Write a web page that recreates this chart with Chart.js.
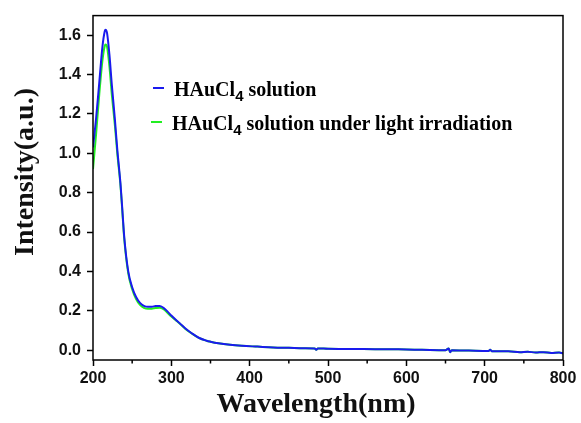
<!DOCTYPE html>
<html>
<head>
<meta charset="utf-8">
<script src="https://cdn.jsdelivr.net/npm/chart.js@4.4.1/dist/chart.umd.min.js"></script>
<style>
  body { margin: 0; background: #fff; }
  #wrap { position: relative; width: 581px; height: 423px; }
  .leg { position: absolute; font-family: "Liberation Serif", serif; font-weight: bold; font-size: 20px; line-height: 20px; color: #000; white-space: nowrap; }
  .leg sub { font-family: "Liberation Sans", sans-serif; font-size: 15px; vertical-align: -5px; line-height: 0; }
  .dash { position: absolute; height: 2px; width: 11px; }
</style>
</head>
<body>
<div id="wrap">
  <canvas id="spec" width="581" height="423"></canvas>
  <div class="dash" style="left:153px;top:87px;background:#1a1aee;"></div>
  <div class="leg" style="left:174px;top:79px;">HAuCl<sub>4</sub> solution</div>
  <div class="dash" style="left:151px;top:121px;background:#22ee22;"></div>
  <div class="leg" style="left:172px;top:113px;">HAuCl<sub>4</sub> solution under light irradiation</div>
</div>
<script>
// wavelength (nm) and absorbance
var wavelength = [200, 204, 208, 212, 215, 216, 218, 221, 224, 228, 231, 235, 237, 240, 245, 250, 255, 260, 265, 270, 275, 280, 285, 290, 295, 300, 305, 311, 318, 326, 335, 345, 350, 360, 375, 390, 410, 430, 450, 470, 483, 485, 487, 500, 530, 560, 590, 620, 650, 654, 656, 658, 680, 705, 707, 709, 730, 745, 755, 765, 775, 785, 795, 800];
var solution = [1.03, 1.18, 1.36, 1.54, 1.62, 1.628, 1.61, 1.50, 1.35, 1.17, 1.02, 0.85, 0.74, 0.57, 0.40, 0.32, 0.27, 0.24, 0.225, 0.220, 0.221, 0.224, 0.225, 0.215, 0.197, 0.176, 0.157, 0.136, 0.11, 0.086, 0.063, 0.048, 0.043, 0.035, 0.027, 0.022, 0.018, 0.014, 0.012, 0.010, 0.009, 0.002, 0.009, 0.007, 0.006, 0.005, 0.004, 0.002, 0.000, 0.008, -0.010, 0.000, -0.002, -0.004, 0.002, -0.005, -0.006, -0.010, -0.008, -0.012, -0.010, -0.014, -0.012, -0.016];
var irradiated = [0.92, 1.10, 1.30, 1.47, 1.545, 1.553, 1.54, 1.44, 1.30, 1.14, 1.00, 0.84, 0.73, 0.56, 0.39, 0.31, 0.26, 0.23, 0.215, 0.210, 0.211, 0.214, 0.216, 0.208, 0.190, 0.171, 0.154, 0.134, 0.108, 0.085, 0.062, 0.048, 0.043, 0.035, 0.027, 0.022, 0.018, 0.014, 0.012, 0.010, 0.009, 0.002, 0.009, 0.007, 0.006, 0.005, 0.004, 0.002, 0.000, 0.008, -0.010, 0.000, -0.002, -0.004, 0.002, -0.005, -0.006, -0.010, -0.008, -0.012, -0.010, -0.014, -0.012, -0.016];

var xTicks = [200, 300, 400, 500, 600, 700, 800];
var xMinor = [250, 350, 450, 550, 650, 750];
var yTicks = [0.0, 0.2, 0.4, 0.6, 0.8, 1.0, 1.2, 1.4, 1.6];
var xTitle = 'Wavelength(nm)';
var yTitle = 'Intensity(a.u.)';

function toPoints(xs, ys) {
  return xs.map(function (x, i) { return { x: x, y: ys[i] }; });
}

// box around the plot, minor ticks on the wavelength axis, axis titles
var frame = {
  id: 'frame',
  afterDraw: function (chart) {
    var ctx = chart.ctx, a = chart.chartArea, xs = chart.scales.x;
    ctx.save();
    ctx.strokeStyle = '#000';
    ctx.lineWidth = 1.5;
    ctx.strokeRect(a.left, a.top, a.right - a.left, a.bottom - a.top);
    ctx.beginPath();
    xMinor.forEach(function (v) {
      var px = xs.getPixelForValue(v);
      ctx.moveTo(px, a.bottom);
      ctx.lineTo(px, a.bottom + 3.5);
    });
    ctx.stroke();

    ctx.fillStyle = '#111';
    ctx.font = 'bold 28px "Liberation Serif"';
    ctx.textAlign = 'center';
    ctx.textBaseline = 'alphabetic';
    ctx.fillText(xTitle, 316, 412);
    ctx.translate(33, 172);
    ctx.rotate(-Math.PI / 2);
    ctx.fillText(yTitle, 0, 0);
    ctx.restore();
  }
};

var tickFont = { family: 'Liberation Sans', weight: 'bold', size: 16 };

new Chart(document.getElementById('spec'), {
  type: 'line',
  data: {
    datasets: [{
      label: 'HAuCl4 solution',
      data: toPoints(wavelength, solution),
      borderColor: '#1a1aee',
      borderWidth: 2,
      pointRadius: 0,
      cubicInterpolationMode: 'monotone'
    }, {
      label: 'HAuCl4 solution under light irradiation',
      data: toPoints(wavelength, irradiated),
      borderColor: '#22ee22',
      borderWidth: 2,
      pointRadius: 0,
      cubicInterpolationMode: 'monotone'
    }]
  },
  options: {
    responsive: false,
    animation: false,
    layout: { padding: { top: 12, right: 18, left: 0, bottom: 0 } },
    plugins: {
      legend: { display: false },
      tooltip: { enabled: false }
    },
    scales: {
      x: {
        type: 'linear',
        min: 200,
        max: 800,
        afterBuildTicks: function (s) { s.ticks = xTicks.map(function (v) { return { value: v }; }); },
        afterFit: function (s) { s.height = 63; },
        grid: { display: true, drawOnChartArea: false, drawTicks: true, tickLength: 6, tickColor: '#000', tickWidth: 1.5 },
        border: { display: false },
        ticks: { font: tickFont, color: '#111', padding: 3, maxRotation: 0 }
      },
      y: {
        type: 'linear',
        min: -0.05,
        max: 1.7,
        afterBuildTicks: function (s) { s.ticks = yTicks.map(function (v) { return { value: v }; }); },
        afterFit: function (s) { s.width = 93; },
        grid: { display: true, drawOnChartArea: false, drawTicks: true, tickLength: 6, tickColor: '#000', tickWidth: 1.5 },
        border: { display: false },
        ticks: { font: tickFont, color: '#111', padding: 6, callback: function (v) { return v.toFixed(1); } }
      }
    }
  },
  plugins: [frame]
});
</script>
</body>
</html>
